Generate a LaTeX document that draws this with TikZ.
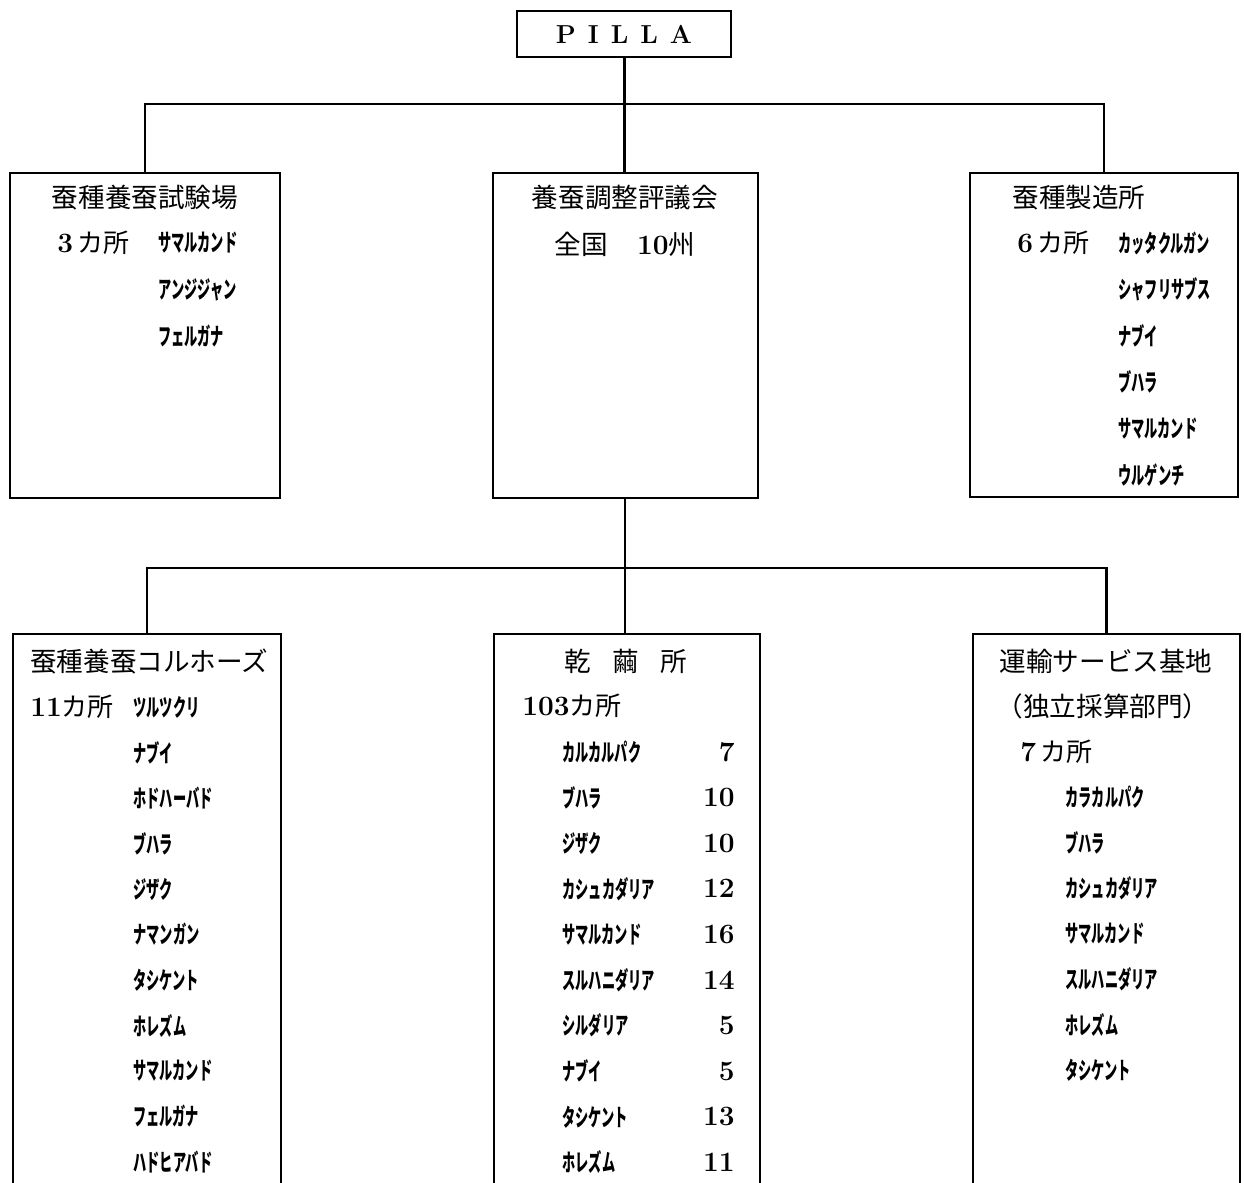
\documentclass[tikz,border=0pt]{standalone}
\usepackage{fontspec}
\newfontfamily\jpfont{Noto Sans CJK JP}
\newfontfamily\kanafont[FakeStretch=0.55]{Noto Sans CJK JP}
\usetikzlibrary{positioning}

\newcommand\digs[1]{{\normalfont\bfseries\fontsize{14}{16}\selectfont #1}}

\tikzset{
  unitbox/.style={draw, line width=1pt, inner sep=0pt},
  link/.style={line width=1.2pt},
  title/.style={font=\jpfont\fontsize{13.3}{16}\selectfont, inner sep=0pt},
  count/.style={font=\jpfont\fontsize{13}{16}\selectfont, anchor=west, inner sep=0pt},
  place/.style={font=\kanafont\bfseries\fontsize{12}{14}\selectfont, anchor=west, inner sep=0pt},
  tally/.style={anchor=east, inner sep=0pt},
}

\begin{document}
\begin{tikzpicture}[x=0.5pt, y=-0.5pt]
  \useasboundingbox (0,0) rectangle (1244,1183);
  \clip (0,0) rectangle (1244,1183);

  % Head office
  \node[unitbox, minimum width=107pt, minimum height=23pt] (pilla) at (624,34)
    {\bfseries\fontsize{13}{15}\selectfont P\hspace{6pt}I\hspace{6pt}L\hspace{6pt}L\hspace{6pt}A};

  % First tier
  \node[unitbox, minimum width=135pt, minimum height=162.5pt] (lab) at (145,335.5) {};
  \node[unitbox, minimum width=132.5pt, minimum height=162.5pt] (council) at (625,335.5) {};
  \node[unitbox, minimum width=134pt, minimum height=162pt] (plant) at (1104,335) {};

  % Second tier (runs off the page)
  \node[unitbox, minimum width=134pt, minimum height=288pt] (farm) at (147,922) {};
  \node[unitbox, minimum width=133pt, minimum height=288pt] (dryer) at (627,922) {};
  \node[unitbox, minimum width=133.5pt, minimum height=288pt] (depot) at (1106.5,922) {};

  % Connectors
  \coordinate (bus) at (624,104);
  \coordinate (bus2) at (627,568);
  \draw[link, line width=1.5pt] (pilla.south) -- (pilla.south |- council.north);
  \draw[link] (lab.north) |- (bus) -| (plant.north);
  \draw[link] (council.south) -- (council.south |- dryer.north);
  \draw[link] (farm.north) |- (bus2) -| (depot.north);

  % Experiment station
  \node[title] (lab-t) at (145,198) {蚕種養蚕試験場};
  \node[count] (lab-c) at (57,243) {\digs{3}\,カ所};
  \foreach \site [count=\i] in {サマルカンド, アンジジャン, フェルガナ}
    \node[place] (lab-\i) at (158,243+46.5*\i-46.5) {\site};

  % Council
  \node[title] (council-t) at (625,198) {養蚕調整評議会};
  \node[title] (council-c) at (625,244) {全国\hspace{1.1em}\digs{10}州};

  % Egg plants
  \node[title, anchor=west] (plant-t) at (1012,198) {蚕種製造所};
  \node[count] (plant-c) at (1017,243) {\digs{6}\,カ所};
  \foreach \site [count=\i] in {カッタクルガン, シャフリサブス, ナブイ, ブハラ, サマルカンド, ウルゲンチ}
    \node[place] (plant-\i) at (1118,243+46.4*\i-46.4) {\site};

  % Kolkhozes
  \node[title, anchor=west] (farm-t) at (30,661) {蚕種養蚕コルホーズ};
  \node[count] (farm-c) at (30,707) {\digs{11}カ所};
  \foreach \site [count=\i] in {ツルツクリ, ナブイ, ホドハーバド, ブハラ, ジザク, ナマンガン,
      タシケント, ホレズム, サマルカンド, フェルガナ, ハドヒアバド}
    \node[place] (farm-\i) at (133,707+45.5*\i-45.5) {\site};

  % Cocoon dryers
  \node[title] (dryer-t) at (626,661) {乾\hspace{0.8em}繭\hspace{0.8em}所};
  \node[count] (dryer-c) at (522,706) {\digs{103}カ所};
  \foreach \site/\n [count=\i] in {カルカルパク/7, ブハラ/10, ジザク/10, カシュカダリア/12,
      サマルカンド/16, スルハニダリア/14, シルダリア/5, ナブイ/5, タシケント/13, ホレズム/11} {
    \node[place] (dryer-\i) at (562,752+45.6*\i-45.6) {\site};
    \node[tally] (dryer-n\i) at (735,752+45.6*\i-45.6) {\digs{\n}};
  }

  % Transport depots
  \node[title] (depot-t) at (1106,661) {運輸サービス基地};
  \node[title] (depot-s) at (1103,706) {（独立採算部門）};
  \node[count] (depot-c) at (1020,752) {\digs{7}\,カ所};
  \foreach \site [count=\i] in {カラカルパク, ブハラ, カシュカダリア, サマルカンド, スルハニダリア,
      ホレズム, タシケント}
    \node[place] (depot-\i) at (1065,797+45.5*\i-45.5) {\site};
\end{tikzpicture}
\end{document}
